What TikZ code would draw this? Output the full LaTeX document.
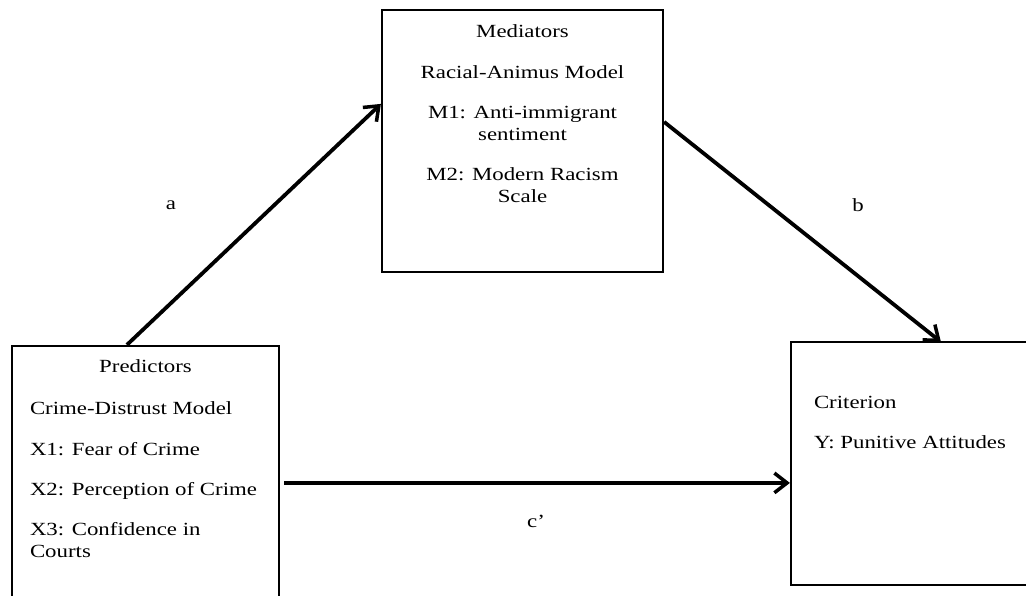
\documentclass[tikz,border=0pt]{standalone}
\usepackage{fontspec}
\setmainfont[FakeStretch=1.23]{Liberation Serif}
\usetikzlibrary{arrows.meta,calc}
\newcommand{\bodyfont}{\fontsize{13.2}{15.6}\selectfont}
\newcommand{\pgap}{\\[13pt]}
\tikzset{
  box/.style={draw, line width=1.5pt, inner sep=0pt},
  boxtext/.style={inner sep=0pt, outer sep=0pt, font=\bodyfont},
  link/.style={line width=2.7pt, -{Straight Barb[length=9pt,width=14pt,line width=2.5pt]}},
  pathlabel/.style={inner sep=0pt, font=\bodyfont}
}

\begin{document}
\begin{tikzpicture}[x=0.025cm, y=-0.025cm]
    \useasboundingbox (0,0) rectangle (1026,596);

    % Прямоугольники
    \node[box, minimum width=7.025cm, minimum height=6.55cm] (med) at (522.5,141) {};
    \node[box, minimum width=6.675cm, minimum height=6.85cm] (pred) at (145.5,483) {};
    \node[box, minimum width=6.225cm, minimum height=6.075cm] (crit) at (915.5,463.5) {};

    % Тексты в прямоугольниках
    \node[boxtext, anchor=north, align=center] (medtext) at (522.5,25)
        {Mediators\pgap Racial-Animus Model\pgap M1: Anti-immigrant\\ sentiment\pgap M2: Modern Racism\\ Scale};
    \node[boxtext, anchor=north] (predhead) at (145.5,360) {Predictors};
    \node[boxtext, anchor=north west, align=left] (predtext) at (30,402)
        {Crime-Distrust Model\pgap X1: Fear of Crime\pgap X2: Perception of Crime\pgap X3: Confidence in\\ Courts};
    \node[boxtext, anchor=north west, align=left] (crittext) at (814,396)
        {Criterion\pgap Y: Punitive Attitudes};

    % Стрелки
    \draw[link] ($(pred.north west)+(116,0)$) -- ($(med.north west)+(0,95)$);
    \draw[link] ($(med.north east)+(0,113)$) -- ($(crit.north west)+(151,1)$);
    \draw[link] ($(pred.north east)+(4,138)$) -- ($(crit.north west)+(0,142)$);

    % Подписи путей
    \node[pathlabel] (pa) at (171,205) {a};
    \node[pathlabel] (pb) at (858,205) {b};
    \node[pathlabel] (pc) at (536,521) {c’};
\end{tikzpicture}
\end{document}
